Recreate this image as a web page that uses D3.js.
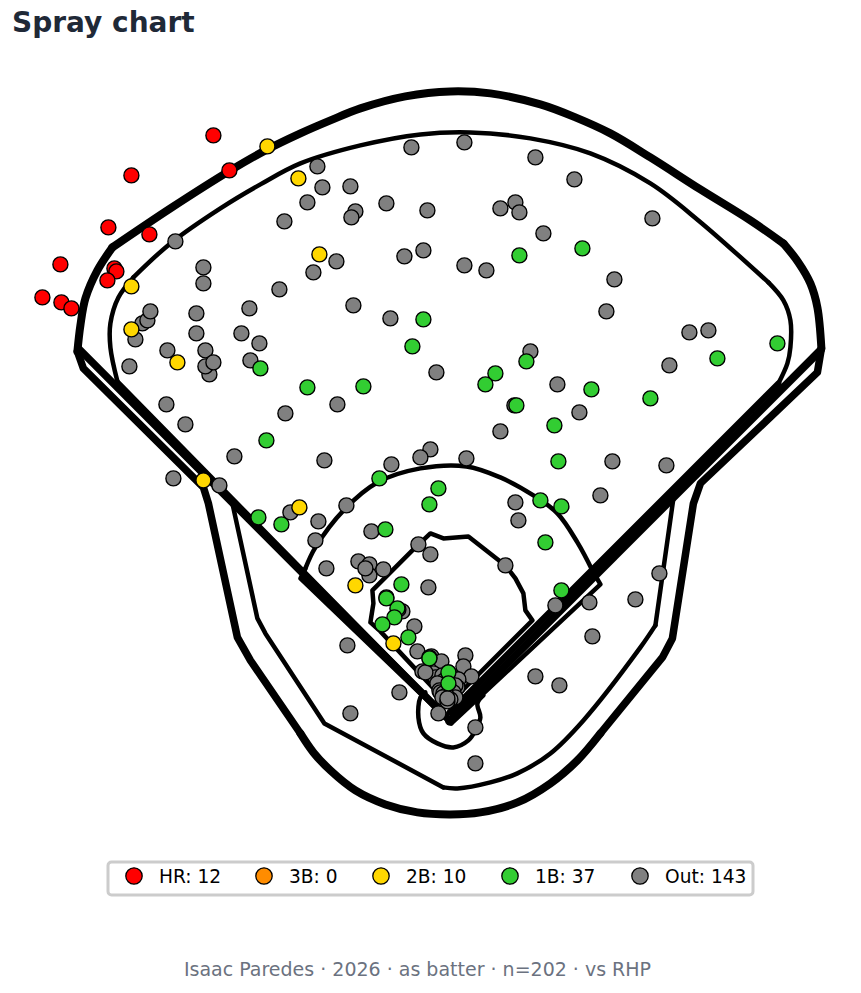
<!DOCTYPE html>
<html><head><meta charset="utf-8">
<script src="https://cdn.jsdelivr.net/npm/d3@7"></script>
<style>html,body{margin:0;background:#fff}svg{display:block}text{font-family:"DejaVu Sans",sans-serif}</style>
</head><body><div id="c"></div>
<script>
const hrPts=[[213,135],[229,170],[131,175],[108,227],[149,234],[60,264],[114,268],[116,271],[107,280],[42,297],[61,302],[71,308]];
const triplePts=[];
const doublePts=[[267,146],[298,178],[319,254],[131,286],[131,329],[177,362],[203,480],[299,507],[355,585],[393,643]];
const singlePts=[[519,255],[582,248],[423,319],[412,346],[260,368],[307,387],[363,386],[495,373],[485,384],[526,361],[591,389],[516,405],[650,398],[717,358],[777,343],[554,425],[266,440],[558,461],[379,478],[438,488],[429,504],[540,500],[561,506],[258,517],[281,524],[385,529],[545,542],[401,584],[561,590],[386,598],[397,608],[394,617],[382,624],[408,637],[429,658],[448,672],[448,683]];
const outPts=[[411,147],[464,142],[535,157],[574,179],[317,166],[322,187],[350,186],[307,202],[386,203],[427,210],[355,211],[351,217],[284,221],[500,208],[515,202],[519,212],[652,218],[543,233],[175,241],[404,256],[423,250],[336,261],[464,265],[486,270],[313,272],[203,267],[203,283],[279,289],[614,279],[606,311],[353,305],[249,308],[196,313],[142,323],[147,320],[150,311],[135,339],[196,333],[241,333],[259,343],[167,350],[205,350],[250,360],[209,374],[205,366],[213,362],[129,366],[390,318],[530,351],[689,332],[708,330],[669,365],[436,372],[557,384],[337,404],[166,404],[285,413],[185,424],[514,405],[579,412],[500,431],[430,449],[420,457],[391,464],[324,460],[234,456],[466,458],[612,461],[666,465],[173,478],[219,485],[600,495],[346,505],[515,502],[290,512],[318,521],[518,520],[371,531],[315,540],[418,544],[430,554],[358,561],[369,564],[369,575],[383,569],[365,568],[326,568],[505,565],[659,573],[428,587],[635,599],[589,602],[555,605],[592,636],[402,611],[414,626],[347,645],[417,651],[431,656],[441,661],[465,655],[463,666],[471,676],[535,676],[559,685],[399,692],[350,713],[475,727],[475,763],[386,597],[398,609],[429,657],[448,672],[448,683],[433,673],[435,677],[438,684],[442,675],[444,680],[451,677],[455,678],[458,679],[457,687],[452,685],[455,685],[445,688],[422,671],[425,672],[437,683],[439,690],[440,692],[443,693],[449,692],[450,690],[453,692],[455,697],[450,699],[446,695],[444,700],[442,697],[447,701],[447,698],[438,713]];

const outerRightCorner=[[821,348],[817,307],[810,283],[798,262],[783,243]];
const outerTop=[[783,243],[750,220],[700,189],[650,157],[610,133],[575,117],[540,104],[490,93],[450,91],[405,96],[360,108],[330,120],[300,133],[265,150],[230,170],[170,208],[112,247]];
const outerLeftCorner=[[112,247],[97,270],[85,298],[80,325],[77,351]];
const outerLeftSide=[[77,351],[83,368],[203,487],[208,503],[237,637],[250,660],[300,733]];
const outerBottom=[[300,733],[313,752],[330,770],[355,790],[385,804],[417,812],[450,814],[480,812],[517,802],[550,783],[577,760],[600,733]];
const outerRightSide=[[600,733],[662,657],[672,638],[693,503],[700,483],[817,372],[821,348]];
const innerArcA=[[778,383],[787,363],[790,347],[790,320],[783,300],[768,282]];
const innerArcB=[[768,282],[698,220],[650,183],[590,153],[530,138],[470,132],[420,134],[360,145],[300,163],[260,184],[220,208],[170,243],[133,277]];
const innerArcC=[[133,277],[118,297],[110,323],[110,347],[117,381]];
const innerFoulLeft=[[232,503],[257,618],[265,633],[324,723],[443,787]];
const innerFoulBottom=[[443,787],[457,788],[490,782],[517,773],[550,753],[583,720],[640,647],[655,625]];
const innerFoulRight=[[655,625],[673,498]];
const foulLeft=[[78,348],[449,720]];
const foulRight=[[820,350],[449,721]];
const guideLeft=[[117,381],[449,719]];
const guideRight=[[778,383],[449,712]];
const arcLowerLeft=[[451,723],[300,578],[305,568]];
const arcCurve=[[305,568],[315,547],[345,508],[377,482],[420,468],[466,466],[500,477],[533,495],[557,513],[577,542],[592,570]];
const arcLowerRight=[[592,570],[600,584],[451,723]];
const dirt=[[435,690],[380,631],[370,622],[373,603],[372,590],[412,550],[430,533],[443,538],[468,536],[505,565],[515,578],[523,593],[525,610],[532,620],[455,697]];
const backstop=[[425,692],[420,697],[418,717],[423,733],[437,743],[453,747],[468,740],[475,730],[480,717],[477,703],[483,695]];

const legendNames=["HR","3B","2B","1B","Out"];
const legendCounts=[12,0,10,37,143];
const colors=["#ff0000","#ff8c00","#ffd700","#32cd32","#808080"];
const titleText="Spray chart";
const footText="Isaac Paredes · 2026 · as batter · n=202 · vs RHP";

const W=861,H=993;
const x=d3.scaleLinear().domain([0,W]).range([0.4,W+0.4]);
const y=d3.scaleLinear().domain([0,H]).range([0.4,H+0.4]);
const straight=d3.line().x(d=>x(d[0])).y(d=>y(d[1]));
const smooth=d3.line().x(d=>x(d[0])).y(d=>y(d[1])).curve(d3.curveCatmullRom.alpha(0.5));
const svg=d3.select("#c").append("svg").attr("width",W).attr("height",H);

const shapes=[[outerRightCorner,smooth,8],[outerTop,smooth,8],[outerLeftCorner,smooth,8],[outerLeftSide,straight,7.5],[outerBottom,smooth,8],[outerRightSide,straight,7.5],
 [innerArcA,smooth,4.5],[innerArcB,smooth,4.5],[innerArcC,smooth,4.5],[innerFoulLeft,straight,4.5],[innerFoulBottom,smooth,4.5],[innerFoulRight,straight,4.5],
 [foulLeft,straight,7.5],[foulRight,straight,8],[guideLeft,straight,4.5],[guideRight,straight,6],
 [arcLowerLeft,straight,4.5],[arcCurve,smooth,4.5],[arcLowerRight,straight,4.5],[dirt,straight,4.5],[backstop,smooth,4.5]];
svg.append("g").selectAll("path").data(shapes).join("path")
 .attr("d",d=>d[1](d[0])).attr("fill","none").attr("stroke","#000")
 .attr("stroke-width",d=>d[2]).attr("stroke-linejoin","round").attr("stroke-linecap","round");

const layers=[[outPts,4],[singlePts,3],[doublePts,2],[triplePts,1],[hrPts,0]];
layers.forEach(([pts,i])=>{
 svg.append("g").selectAll("circle").data(pts).join("circle")
  .attr("cx",d=>x(d[0])).attr("cy",d=>y(d[1])).attr("r",7.5)
  .attr("fill",colors[i]).attr("stroke","#000").attr("stroke-width",1.4);
});

svg.append("text").attr("x",12).attr("y",32).attr("font-size",28).attr("font-weight",700).attr("fill","#1f2937").text(titleText);

svg.append("rect").attr("x",108).attr("y",862).attr("width",645).attr("height",33).attr("rx",3.5)
 .attr("fill","#fff").attr("stroke","#cccccc").attr("stroke-width",3);
const markX=[134,264,381,510,640];
const leg=svg.append("g").selectAll("g").data(legendNames).join("g");
leg.append("circle").attr("cx",(d,i)=>markX[i]).attr("cy",876).attr("r",8.2)
 .attr("fill",(d,i)=>colors[i]).attr("stroke","#000").attr("stroke-width",1.3);
leg.append("text").attr("x",(d,i)=>markX[i]+25).attr("y",883).attr("font-size",18.6).attr("fill","#000")
 .text((d,i)=>`${d}: ${legendCounts[i]}`);

svg.append("text").attr("x",417.5).attr("y",976).attr("text-anchor","middle").attr("font-size",19).attr("fill","#6b7280").text(footText);
</script></body></html>
